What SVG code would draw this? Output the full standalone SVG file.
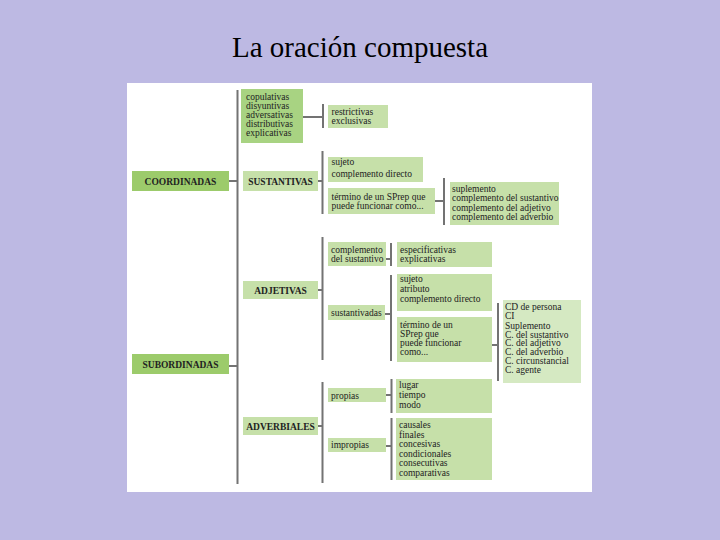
<svg xmlns="http://www.w3.org/2000/svg" width="720" height="540" viewBox="0 0 720 540">
<style>
.t{font-family:"Liberation Serif","Times New Roman",serif;font-size:9.5px;fill:#222}
.b{font-family:"Liberation Serif","Times New Roman",serif;font-size:9.5px;font-weight:bold;fill:#222;text-anchor:middle}
.dk{fill:#9CCB6B}
.md{fill:#A8D382}
.lt{fill:#C6E0A9}
.pl{fill:#D5E9C2}
.ln{stroke:#737373;stroke-width:2;fill:none}
</style>
<rect width="720" height="540" fill="#BDB9E3"/>
<text x="360" y="57" text-anchor="middle" font-family="Liberation Serif,Times New Roman,serif" font-size="29" fill="#000">La oración compuesta</text>
<rect x="127" y="83" width="465" height="409" fill="#FFFFFF"/>
<g id="connectors" class="ln">
<path d="M237.5 90V484"/>
<path d="M229 181H237.5"/>
<path d="M229 366H237.5"/>
<path d="M303 117H323M323 104V128"/>
<path d="M318 181H322.5M322.5 151V214"/>
<path d="M435 201H444M444 178V225"/>
<path d="M318 290H322.5M322.5 237V360"/>
<path d="M386 259H391M391 243V266"/>
<path d="M385 314H391M391 275V361"/>
<path d="M492 345H498M498 303V381"/>
<path d="M318 426H322.5M322.5 382V483"/>
<path d="M386 395H391.5M391.5 379V413"/>
<path d="M386 446H391.5M391.5 418V480"/>
</g>
<g id="coordinadas"><rect class="dk" x="132" y="171" width="97" height="20"/><text class="b" x="180.5" y="184.5">COORDINADAS</text></g>
<g id="subordinadas"><rect class="dk" x="132" y="354" width="97" height="20"/><text class="b" x="180.5" y="367.5">SUBORDINADAS</text></g>
<g id="copulativas"><rect class="md" x="241" y="89" width="62" height="54"/>
<text class="t" x="246" y="100">copulativas</text><text class="t" x="246" y="109">disyuntivas</text><text class="t" x="246" y="118">adversativas</text><text class="t" x="246" y="127">distributivas</text><text class="t" x="246" y="136">explicativas</text></g>
<g id="restrictivas"><rect class="lt" x="328" y="105" width="60" height="23"/>
<text class="t" x="331.5" y="115">restrictivas</text><text class="t" x="331.5" y="124">exclusivas</text></g>
<g id="sustantivas"><rect class="lt" x="243" y="171" width="75" height="20"/><text class="b" x="280.5" y="184.5">SUSTANTIVAS</text></g>
<g id="sujeto1"><rect class="lt" x="328" y="157" width="95" height="25"/>
<text class="t" x="331.5" y="164.5">sujeto</text><text class="t" x="331.5" y="176.5">complemento directo</text></g>
<g id="termino1"><rect class="lt" x="328" y="188" width="107" height="26"/>
<text class="t" x="331.5" y="200">término de un SPrep que</text><text class="t" x="331.5" y="208.5">puede funcionar como...</text></g>
<g id="suplemento1"><rect class="lt" x="450" y="182" width="109" height="43"/>
<text class="t" x="452" y="191.5">suplemento</text><text class="t" x="452" y="201">complemento del sustantivo</text><text class="t" x="452" y="210.5">complemento del adjetivo</text><text class="t" x="452" y="220">complemento del adverbio</text></g>
<g id="adjetivas"><rect class="lt" x="243" y="281" width="75" height="18"/><text class="b" x="280.5" y="293.5">ADJETIVAS</text></g>
<g id="compsust"><rect class="lt" x="328" y="242" width="58" height="24"/>
<text class="t" x="331" y="252.5">complemento</text><text class="t" x="331" y="261.5">del sustantivo</text></g>
<g id="especificativas"><rect class="lt" x="397" y="242" width="95" height="25"/>
<text class="t" x="400" y="253">especificativas</text><text class="t" x="400" y="262">explicativas</text></g>
<g id="sustantivadas"><rect class="lt" x="328" y="305" width="57" height="15"/>
<text class="t" x="331" y="315.5">sustantivadas</text></g>
<g id="sujeto2"><rect class="lt" x="397" y="274" width="95" height="37"/>
<text class="t" x="400" y="281.5">sujeto</text><text class="t" x="400" y="291.5">atributo</text><text class="t" x="400" y="302">complemento directo</text></g>
<g id="termino2"><rect class="lt" x="397" y="317" width="95" height="45"/>
<text class="t" x="400" y="327.5">término de un</text><text class="t" x="400" y="336.5">SPrep que</text><text class="t" x="400" y="345.5">puede funcionar</text><text class="t" x="400" y="355">como...</text></g>
<g id="cdpersona"><rect class="pl" x="503" y="300" width="78" height="83"/>
<text class="t" x="505" y="310">CD de persona</text><text class="t" x="505" y="319">CI</text><text class="t" x="505" y="328.5">Suplemento</text><text class="t" x="505" y="337.5">C. del sustantivo</text><text class="t" x="505" y="346">C. del adjetivo</text><text class="t" x="505" y="355">C. del adverbio</text><text class="t" x="505" y="364">C. circunstancial</text><text class="t" x="505" y="373">C. agente</text></g>
<g id="adverbiales"><rect class="lt" x="243" y="417" width="75" height="18"/><text class="b" x="280.5" y="429.5">ADVERBIALES</text></g>
<g id="propias"><rect class="lt" x="328" y="388" width="58" height="14"/>
<text class="t" x="331" y="398.5">propias</text></g>
<g id="impropias"><rect class="lt" x="328" y="438" width="58" height="14"/>
<text class="t" x="331" y="447.5">impropias</text></g>
<g id="lugar"><rect class="lt" x="396" y="379" width="96" height="34"/>
<text class="t" x="399" y="388">lugar</text><text class="t" x="399" y="398">tiempo</text><text class="t" x="399" y="407.5">modo</text></g>
<g id="causales"><rect class="lt" x="396" y="418" width="96" height="62"/>
<text class="t" x="399" y="427.5">causales</text><text class="t" x="399" y="437.5">finales</text><text class="t" x="399" y="447">concesivas</text><text class="t" x="399" y="456.5">condicionales</text><text class="t" x="399" y="466">consecutivas</text><text class="t" x="399" y="475.5">comparativas</text></g>
</svg>
